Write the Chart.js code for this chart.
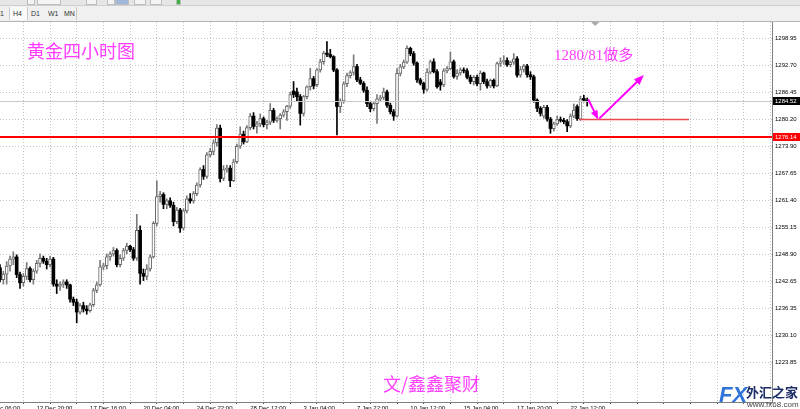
<!DOCTYPE html>
<html>
<head>
<meta charset="utf-8">
<script src="https://cdn.jsdelivr.net/npm/chart.js@4.4.1/dist/chart.umd.min.js"></script>
<style>
html, body { margin: 0; padding: 0; width: 800px; height: 409px; overflow: hidden; background: #fff; }
#wrap { position: relative; width: 800px; height: 418px; }
#c { position: absolute; left: 0; top: 0; }
#tb { position: absolute; left: 0; top: 0; width: 800px; height: 21px; background: #f0f0f0; border-bottom: 1px solid #b4b4b4;
      font: 7px "Liberation Sans", sans-serif; color: #333; }
#tb .r1 { position: absolute; left: 0; top: 0; width: 800px; height: 5px; background: #e6e6e6; border-bottom: 1px solid #cfcfcf; }
#tb .r1 i { position: absolute; top: 0; height: 4px; border: 1px solid #bdbdbd; border-top: none; background: #f4f4f4; }
#tb .tab { position: absolute; top: 10px; line-height: 8px; }
#tb .on { position: absolute; left: 9px; top: 7px; width: 17px; height: 13px; background: #fafafa; border-left: 1px solid #c8c8c8; border-right: 1px solid #c8c8c8; }
#tb .sep { position: absolute; left: 76px; top: 7px; width: 1px; height: 13px; background: #c8c8c8; }
</style>
</head>
<body>
<div id="wrap">
  <canvas id="c" width="800" height="418"></canvas>
  <div id="tb">
    <div class="r1">
      <i style="left:27px;width:6px"></i><i style="left:37px;width:22px"></i>
      <i style="left:86px;width:9px"></i><i style="left:107px;width:6px"></i>
      <i style="left:115px;width:12px;background:#9fb7d8"></i><i style="left:134px;width:10px"></i>
      <i style="left:150px;width:10px"></i><i style="left:176px;width:3px;background:#3cb043"></i>
    </div>
    <div class="on"></div>
    <span class="tab" style="left:-5px">H1</span>
    <span class="tab" style="left:13px">H4</span>
    <span class="tab" style="left:31px">D1</span>
    <span class="tab" style="left:48px">W1</span>
    <span class="tab" style="left:64px">MN</span>
    <div class="sep"></div>
  </div>
</div>
<script>
// 黄金 H4 candles, one bar per 4 hours
const opens = [
  1245.8,1243.0,1244.3,1246.2,1247.8,1248.3,1244.2,1242.3,1243.8,1245.6,
  1243.0,1245.0,1246.8,1248.0,1247.3,1246.5,1247.8,1242.0,1241.5,1242.0,
  1242.5,1241.8,1238.5,1237.8,1235.5,1237.0,1236.2,1235.8,1237.2,1240.5,
  1241.8,1246.0,1246.3,1248.3,1249.0,1249.8,1246.5,1248.0,1249.8,1250.8,
  1250.0,1248.0,1254.5,1244.5,1243.8,1245.5,1248.3,1256.1,1262.3,1262.8,
  1260.5,1261.3,1260.3,1256.5,1259.2,1255.0,1259.0,1261.8,1261.3,1263.0,
  1265.0,1268.6,1267.0,1272.0,1272.8,1274.8,1278.2,1266.5,1268.6,1268.9,
  1266.0,1270.4,1274.0,1276.8,1275.0,1278.3,1281.0,1278.6,1279.2,1280.4,
  1279.0,1279.6,1282.3,1280.0,1280.4,1281.2,1282.0,1283.3,1286.8,1286.6,
  1285.5,1281.6,1285.5,1287.8,1289.7,1288.3,1291.7,1293.6,1295.6,1295.3,
  1294.8,1291.7,1283.2,1284.5,1288.5,1290.4,1291.1,1292.5,1289.4,1288.6,
  1287.0,1283.9,1282.7,1283.9,1285.0,1285.3,1286.6,1283.5,1282.0,1281.0,
  1290.9,1292.4,1293.5,1296.7,1295.5,1293.3,1289.4,1288.6,1287.2,1291.2,
  1293.6,1291.3,1288.9,1288.2,1291.5,1292.0,1293.6,1290.2,1291.0,1291.7,
  1291.5,1290.0,1289.0,1290.0,1288.5,1291.0,1289.0,1288.0,1289.3,1288.0,
  1293.2,1293.6,1293.9,1292.9,1293.5,1294.3,1290.5,1291.8,1292.6,1290.6,
  1290.1,1284.7,1282.8,1281.0,1283.0,1280.3,1278.1,1279.2,1280.2,1280.0,
  1279.7,1278.7,1281.0,1283.2,1280.3,1285.1,1284.7
];
const highs = [
  1246.5,1245.0,1247.2,1248.5,1249.5,1248.8,1244.8,1244.5,1247.0,1246.0,
  1245.5,1247.5,1249.0,1248.5,1248.0,1248.5,1248.2,1243.0,1242.5,1243.0,
  1243.0,1242.0,1239.0,1238.5,1237.5,1237.8,1237.0,1237.6,1241.0,1242.5,
  1247.5,1246.8,1249.0,1249.5,1250.5,1250.2,1248.8,1250.3,1251.5,1251.0,
  1250.5,1258.2,1255.5,1245.5,1246.5,1248.8,1256.5,1266.0,1263.5,1263.2,
  1261.8,1262.0,1261.0,1259.8,1259.6,1259.5,1262.5,1263.0,1263.5,1265.5,
  1269.0,1269.5,1272.5,1273.5,1275.5,1279.0,1278.9,1269.5,1269.6,1269.5,
  1271.0,1274.5,1278.5,1277.5,1278.8,1281.6,1281.8,1279.8,1281.5,1280.8,
  1280.0,1283.9,1282.8,1280.8,1281.6,1282.5,1283.5,1286.5,1289.0,1287.5,
  1286.0,1285.8,1288.0,1292.1,1290.2,1292.0,1294.2,1296.0,1298.3,1296.5,
  1295.0,1292.0,1285.0,1289.0,1291.0,1291.5,1295.2,1293.0,1290.0,1289.0,
  1287.8,1284.3,1284.2,1286.0,1285.8,1287.5,1287.0,1284.0,1282.5,1292.0,
  1293.0,1294.0,1297.3,1297.0,1296.0,1293.6,1289.8,1288.9,1292.0,1294.0,
  1294.3,1291.8,1289.5,1292.0,1292.5,1295.9,1294.0,1291.8,1292.2,1292.2,
  1292.0,1290.5,1290.4,1290.5,1291.5,1291.2,1289.6,1289.6,1289.6,1293.5,
  1294.5,1295.0,1294.5,1293.8,1295.5,1294.8,1292.5,1293.0,1293.0,1291.3,
  1290.5,1285.0,1283.2,1283.5,1283.5,1280.7,1279.6,1281.0,1280.8,1280.5,
  1280.2,1281.5,1283.8,1283.6,1285.6,1285.8,1285.2
];
const lows = [
  1242.5,1242.0,1242.0,1245.0,1246.5,1243.5,1241.0,1241.5,1243.0,1242.5,
  1242.0,1244.5,1246.0,1246.8,1245.5,1246.0,1241.5,1239.8,1240.5,1241.2,
  1241.0,1237.8,1237.0,1233.0,1235.0,1235.5,1235.0,1235.5,1236.8,1240.0,
  1241.5,1245.3,1245.5,1247.5,1248.5,1246.0,1246.0,1247.5,1249.0,1249.5,
  1247.5,1247.5,1242.0,1242.8,1243.0,1245.0,1248.0,1255.5,1261.0,1259.5,
  1259.5,1259.8,1255.5,1256.0,1254.0,1254.5,1258.5,1260.8,1260.8,1262.5,
  1264.5,1266.3,1266.5,1271.5,1272.0,1274.0,1265.7,1266.0,1268.0,1264.6,
  1265.8,1270.0,1273.5,1274.5,1274.8,1277.8,1278.0,1277.0,1278.5,1278.5,
  1278.0,1279.0,1279.5,1279.6,1278.0,1280.8,1280.0,1282.8,1285.3,1284.5,
  1278.9,1281.0,1285.0,1287.0,1287.3,1287.8,1291.2,1293.0,1294.8,1294.5,
  1291.3,1276.6,1281.8,1284.0,1287.8,1289.8,1290.5,1289.0,1288.3,1286.5,
  1283.2,1282.0,1282.2,1279.3,1284.5,1284.8,1283.0,1281.5,1280.0,1280.8,
  1290.3,1292.0,1293.2,1295.0,1292.8,1288.8,1288.2,1286.3,1286.8,1290.8,
  1291.0,1287.5,1287.0,1287.8,1291.0,1291.8,1289.8,1289.5,1290.5,1291.0,
  1289.6,1288.5,1288.2,1288.0,1287.0,1288.5,1287.5,1287.6,1287.5,1287.8,
  1292.5,1293.0,1292.5,1292.4,1293.0,1290.0,1290.0,1291.2,1290.0,1289.5,
  1284.2,1282.0,1281.0,1280.5,1279.8,1277.0,1277.5,1278.8,1279.6,1279.2,
  1277.4,1278.3,1280.6,1280.0,1280.0,1284.3,1283.3
];
const closes = [
  1243.0,1244.3,1246.2,1247.8,1248.3,1244.2,1242.3,1243.8,1245.6,1243.0,
  1245.0,1246.8,1248.0,1247.3,1246.5,1247.8,1242.0,1241.5,1242.0,1242.5,
  1241.8,1238.5,1237.8,1235.5,1237.0,1236.2,1235.8,1237.2,1240.5,1241.8,
  1246.0,1246.3,1248.3,1249.0,1249.8,1246.5,1248.0,1249.8,1250.8,1250.0,
  1248.0,1254.5,1244.5,1243.8,1245.5,1248.3,1256.1,1262.3,1262.8,1260.5,
  1261.3,1260.3,1256.5,1259.2,1255.0,1259.0,1261.8,1261.3,1263.0,1265.0,
  1268.6,1267.0,1272.0,1272.8,1274.8,1278.2,1266.5,1268.6,1268.9,1266.0,
  1270.4,1274.0,1276.8,1275.0,1278.3,1281.0,1278.6,1279.2,1280.4,1279.0,
  1279.6,1282.3,1280.0,1280.4,1281.2,1282.0,1283.3,1286.0,1286.0,1285.5,
  1281.6,1285.5,1287.8,1289.7,1288.0,1291.7,1293.6,1295.6,1295.3,1294.8,
  1291.7,1283.2,1284.5,1288.5,1290.4,1291.1,1292.5,1289.4,1288.6,1287.0,
  1283.9,1282.7,1283.9,1285.0,1285.3,1286.6,1283.5,1282.0,1281.0,1290.9,
  1292.4,1293.5,1296.7,1295.5,1293.3,1289.4,1288.6,1287.2,1291.2,1293.6,
  1291.3,1287.8,1288.2,1291.5,1292.0,1293.6,1290.2,1291.0,1291.7,1291.5,
  1290.0,1289.0,1290.0,1288.5,1291.0,1289.0,1288.0,1289.3,1288.0,1293.2,
  1293.6,1293.9,1292.9,1293.5,1294.3,1290.5,1291.8,1292.6,1290.6,1290.1,
  1284.7,1282.8,1281.6,1283.0,1280.3,1278.1,1279.2,1280.2,1280.0,1279.7,
  1278.7,1281.0,1282.4,1280.4,1285.0,1284.7,1284.52
];

// right axis price ticks
const yTicks = [1298.95, 1292.70, 1286.45, 1280.20, 1273.90, 1267.65, 1261.40,
                1255.15, 1248.90, 1242.65, 1236.35, 1230.10, 1223.85];
// time labels sit on bar numbers
const xLabelIdx = [-5, 11, 27, 43, 59, 75, 91, 107, 123, 139, 155, 171];
const xLabels = ['10 Dec 06:00', '12 Dec 20:00', '17 Dec 16:00', '20 Dec 04:00', '24 Dec 22:00', '28 Dec 12:00',
                 '3 Jan 04:00', '7 Jan 22:00', '10 Jan 12:00', '15 Jan 04:00', '17 Jan 20:00', '22 Jan 12:00'];

const supportLevel = 1276.14;
const lastPrice = 1284.52;
const entryLevel = 1280.2;

const gridIdx = [];
for (let v = 3; v <= 231; v += 8) gridIdx.push(v);

const isUp = closes.map((c, i) => c >= opens[i]);

const axisFont = { family: 'Liberation Sans', size: 6 };

function arrow(ctx, x1, y1, x2, y2, head) {
  const a = Math.atan2(y2 - y1, x2 - x1);
  const c = Math.cos(a), s = Math.sin(a);
  ctx.beginPath();
  ctx.moveTo(x1, y1);
  ctx.lineTo(x2 - c * head * 0.7, y2 - s * head * 0.7);
  ctx.stroke();
  ctx.beginPath();
  ctx.moveTo(x2, y2);
  ctx.lineTo(x2 - head * c + head * 0.4 * s, y2 - head * s - head * 0.4 * c);
  ctx.lineTo(x2 - head * c - head * 0.4 * s, y2 - head * s + head * 0.4 * c);
  ctx.closePath();
  ctx.fill();
}

const overlay = {
  id: 'overlay',
  afterDatasetsDraw(chart) {
    const ctx = chart.ctx, xs = chart.scales.x, ys = chart.scales.y, a = chart.chartArea;
    ctx.save();
    ctx.beginPath(); ctx.rect(a.left, a.top, a.right - a.left, a.bottom - a.top); ctx.clip();

    // bid line
    let y = Math.round(ys.getPixelForValue(lastPrice)) + 0.5;
    ctx.strokeStyle = '#c8c8c8'; ctx.lineWidth = 1;
    ctx.beginPath(); ctx.moveTo(a.left, y); ctx.lineTo(a.right, y); ctx.stroke();

    // support line
    y = ys.getPixelForValue(supportLevel);
    ctx.strokeStyle = '#ff0000'; ctx.lineWidth = 2;
    ctx.beginPath(); ctx.moveTo(a.left, y); ctx.lineTo(a.right, y); ctx.stroke();

    // entry segment
    y = ys.getPixelForValue(entryLevel);
    ctx.strokeStyle = '#e8494f'; ctx.lineWidth = 1.4;
    ctx.beginPath(); ctx.moveTo(xs.getPixelForValue(173.6), y); ctx.lineTo(xs.getPixelForValue(206.5), y); ctx.stroke();

    // arrows
    ctx.strokeStyle = '#ff00ff'; ctx.fillStyle = '#ff00ff'; ctx.lineWidth = 2;
    arrow(ctx, xs.getPixelForValue(176.3), ys.getPixelForValue(1284.9),
               xs.getPixelForValue(179.3), ys.getPixelForValue(1280.2), 9);
    arrow(ctx, xs.getPixelForValue(179.6), ys.getPixelForValue(1280.4),
               xs.getPixelForValue(193.0), ys.getPixelForValue(1290.5), 10);

    // chart shift marker
    const sx = xs.getPixelForValue(178.4);
    ctx.fillStyle = '#a8a8a8';
    ctx.beginPath(); ctx.moveTo(sx - 4, a.top); ctx.lineTo(sx + 4, a.top); ctx.lineTo(sx, a.top + 4); ctx.closePath(); ctx.fill();
    ctx.restore();

    // magenta notes
    ctx.save();
    ctx.fillStyle = '#ff3cff';
    ctx.textBaseline = 'alphabetic';
    ctx.font = '18px "Noto Sans CJK SC"';
    ctx.fillText('黄金四小时图', 27, 58);
    ctx.font = '15px "Liberation Serif", "Noto Sans CJK SC"';
    ctx.fillText('1280/81做多', 554, 59.5);
    ctx.font = '18px "Noto Sans CJK SC"';
    ctx.fillText('文/鑫鑫聚财', 383, 391);
    ctx.restore();
  },
  afterDraw(chart) {
    const ctx = chart.ctx, xs = chart.scales.x, ys = chart.scales.y, a = chart.chartArea;
    ctx.save();
    ctx.font = '6px "Liberation Sans"';
    ctx.textBaseline = 'middle';
    // price boxes on the axis
    [[supportLevel, '#ff0000'], [lastPrice, '#000000']].forEach(([v, col]) => {
      const y = ys.getPixelForValue(v);
      ctx.fillStyle = col;
      ctx.fillRect(a.right + 1, Math.round(y) - 4, 27, 8);
      ctx.fillStyle = '#ffffff';
      ctx.fillText(v.toFixed(2), a.right + 3, y);
    });
    // time label of the bar left of the window
    ctx.fillStyle = '#000';
    ctx.textBaseline = 'top';
    ctx.fillText(xLabels[0], xs.getPixelForValue(xLabelIdx[0]) + 1, a.bottom + 3);

    // site watermark
    ctx.textBaseline = 'alphabetic';
    ctx.font = 'italic bold 22px "Liberation Sans"';
    ctx.fillStyle = '#2f74d8';
    ctx.fillText('FX', 719, 402);
    ctx.font = 'bold 13px "Noto Sans CJK SC"';
    ctx.fillStyle = '#1c2d66';
    ctx.fillText('外汇之家', 746, 397);
    ctx.font = '8px "Liberation Sans"';
    ctx.fillStyle = '#444';
    ctx.fillText('www.fx68.com', 747, 407);
    ctx.restore();
  }
};

new Chart(document.getElementById('c'), {
  type: 'bar',
  data: {
    datasets: [
      {
        label: 'body',
        order: 0,
        data: opens.map((o, i) => ({ x: i, y: [o, closes[i]] })),
        backgroundColor: isUp.map(u => u ? '#ffffff' : '#000000'),
        borderColor: isUp.map(u => u ? '#666666' : '#000000'),
        borderWidth: isUp.map(u => u ? 1 : 0),
        borderSkipped: false,
        barThickness: 3,
        grouped: false
      },
      {
        label: 'wick',
        order: 1,
        data: lows.map((l, i) => ({ x: i, y: [l, highs[i]] })),
        backgroundColor: isUp.map(u => u ? '#7a7a7a' : '#000000'),
        borderWidth: 0,
        barThickness: 1,
        grouped: false
      }
    ]
  },
  options: {
    responsive: false,
    animation: false,
    devicePixelRatio: 1,
    layout: { padding: { top: 22, left: 0, right: 0, bottom: 0 } },
    plugins: { legend: { display: false }, tooltip: { enabled: false } },
    scales: {
      x: {
        type: 'linear',
        min: 0,
        max: 231.4,
        offset: false,
        afterBuildTicks: s => { s.ticks = gridIdx.map(v => ({ value: v })); },
        afterFit: s => { s.height = 16; },
        ticks: {
          autoSkip: false, maxRotation: 0, align: 'start', padding: 1,
          color: '#000', font: axisFont,
          callback: v => { const k = xLabelIdx.indexOf(v); return k >= 0 ? xLabels[k] : ''; }
        },
        grid: { color: '#c4c4c4', tickColor: '#555', tickLength: 2, tickBorderDash: [] },
        border: { display: true, color: '#808080', width: 1, dash: [1, 2] }
      },
      y: {
        position: 'right',
        min: 1214.63,
        max: 1302.83,
        afterBuildTicks: s => { s.ticks = yTicks.map(v => ({ value: v })); },
        afterFit: s => { s.width = 28; },
        ticks: { padding: 3, color: '#000', font: axisFont, callback: v => v.toFixed(2) },
        grid: { color: '#c4c4c4', drawTicks: false },
        border: { display: true, color: '#808080', width: 1, dash: [1, 2] }
      }
    }
  },
  plugins: [overlay]
});
</script>
</body>
</html>
